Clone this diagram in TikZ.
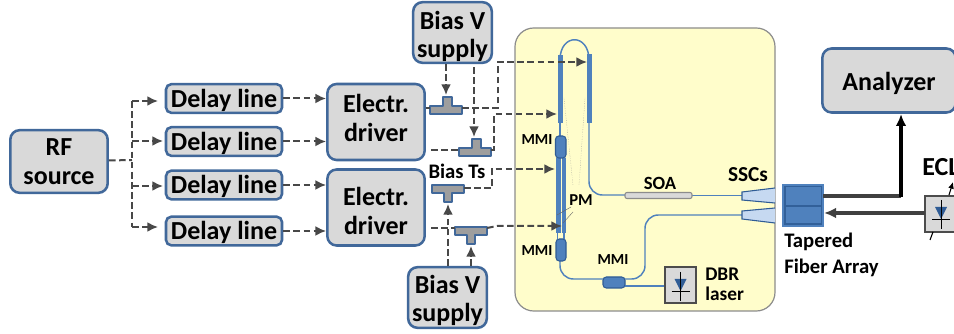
\documentclass[tikz,border=0pt]{standalone}
\usepackage{fontspec}
\setmainfont{Carlito}
\usetikzlibrary{calc}
\usetikzlibrary{arrows.meta}
\definecolor{boxfill}{HTML}{D9D9D9}
\definecolor{boxedge}{HTML}{41689A}
\definecolor{sigline}{HTML}{484848}
\definecolor{chipfill}{HTML}{FFFDCB}
\definecolor{guide}{HTML}{4F81BD}
\definecolor{deepblue}{HTML}{2F5C95}
\definecolor{taperfill}{HTML}{C6D9F1}
\tikzset{
  block/.style={draw=boxedge,fill=boxfill,line width=1.9pt,rounded corners=7pt,inner sep=0pt,align=center,font=\bfseries\fontsize{19.5}{22}\selectfont},
  delaybox/.style={block,rounded corners=4pt,minimum width=87pt,minimum height=21.5pt,text height=16.5pt,text depth=3.6pt},
  bigbox/.style={block,minimum width=73pt,minimum height=57pt},
  sig/.style={draw=sigline,line width=1.5pt,dash pattern=on 5pt off 2.6pt,-{Latex[length=8pt,width=7.5pt]}},
  signoarrow/.style={draw=sigline,line width=1.5pt,dash pattern=on 5pt off 2.6pt},
  tee/.style={draw=boxedge,fill=black!38,line width=1.6pt,line join=round},
  wg/.style={draw=guide,line width=1.1pt},
  mmi/.style={draw=deepblue,fill=guide,line width=0.8pt,rounded corners=2.5pt},
  lbl/.style={font=\bfseries\fontsize{11.5}{14}\selectfont,inner sep=0pt},
  lblbig/.style={font=\bfseries\fontsize{15.5}{19}\selectfont,inner sep=0pt,align=left},
  hint/.style={draw=black!45,line width=0.3pt,densely dotted},
}
\begin{document}
\begin{tikzpicture}[x=0.75pt,y=-0.75pt]
\useasboundingbox (0,0) rectangle (954,334);
% chip
\draw [fill=chipfill,draw=black!45,line width=0.9pt,rounded corners=14pt] (515,28) rectangle (775,311);
% boxes on the left
\node [block,minimum width=73pt,minimum height=47pt] (rf) at (59,161.5) {RF\\source};
\node [delaybox] (dl1) at (224,98.5) {Delay line};
\node [delaybox] (dl2) at (224,141.5) {Delay line};
\node [delaybox] (dl3) at (224,185) {Delay line};
\node [delaybox] (dl4) at (224,231) {Delay line};
\node [bigbox] (drv1) at (376,122) {Electr.\\driver\rule[-6pt]{0pt}{6pt}};
\node [bigbox] (drv2) at (376,207.5) {\rule{0pt}{19pt}Electr.\\driver};
\node [block,minimum width=59pt,minimum height=45.5pt] (bias1) at (452.5,32.5) {\rule{0pt}{20pt}Bias V\\[-1pt]supply};
\node [block,minimum width=59pt,minimum height=45.5pt] (bias2) at (447.5,297.5) {\rule{0pt}{18pt}Bias V\\[-1pt]supply};
\node [block,minimum width=100pt,minimum height=48pt,text height=18.5pt,text depth=3.6pt] (ana) at (889,80.5) {Analyzer};
% bias tees
\draw [tee] (430,114) -- (430,106) -- (443,106) -- (443,97) -- (452,97) -- (452,106) -- (462,106) -- (462,114) -- cycle;
\draw [tee] (459,156) -- (459,148) -- (472,148) -- (472,139) -- (481,139) -- (481,148) -- (491,148) -- (491,156) -- cycle;
\draw [tee] (432,185) -- (464,185) -- (464,193) -- (452,193) -- (452,202) -- (444,202) -- (444,193) -- (432,193) -- cycle;
\draw [tee] (455,227) -- (487,227) -- (487,235) -- (475,235) -- (475,244) -- (467,244) -- (467,235) -- (455,235) -- cycle;
\coordinate (t1l) at (430,108);
\coordinate (t1r) at (462,108);
\coordinate (t1n) at (446,95);
\coordinate (t2l) at (459,150);
\coordinate (t2r) at (491,150);
\coordinate (t2n) at (474,137);
\coordinate (t3r) at (464,188);
\coordinate (t3s) at (448,204);
\coordinate (t4l) at (455,228);
\coordinate (t4r) at (487,228);
\coordinate (t4s) at (471,246);
\coordinate (bus) at (132,160);
% waveguides
\draw [wg] (560,60) .. controls (560,33) and (589,33) .. (589,60);
\draw [wg] (560,120) -- (560,138);
\draw [wg,rounded corners=10pt] (589,120) -- (589,195) -- (625,195);
\draw [wg] (692,195.5) -- (742,195.5);
\draw [wg,rounded corners=10pt] (560,259) -- (560,279) -- (603,279);
\draw [wg,rounded corners=10pt] (625,279) -- (645,279) -- (645,215) -- (742,215);
\draw [wg] (625,286) -- (665,286);
\fill [guide] (557.5,55) rectangle (562.5,123);
\fill [guide] (586.5,54) rectangle (591.5,123);
\fill [guide] (556,158) rectangle (560.5,233);
\fill [guide] (562,158) rectangle (566,233);
\draw [wg] (557.5,233) -- (557.5,239);
\draw [wg] (564,233) -- (564,239);
\draw [mmi] (555.5,136) rectangle (566,158);
\draw [mmi] (556,239) rectangle (566,261);
\draw [mmi] (603,277) rectangle (625,288);
\draw [draw=black!45,fill=boxfill,line width=0.8pt,rounded corners=1.5pt] (625,192.5) rectangle (692,198.5);
\draw [hint] (564,98) -- (573,185);
\draw [hint] (585,98) -- (579,185);
\draw [draw=black!60,line width=0.3pt] (557,215) -- (571,207);
\draw [draw=black!60,line width=0.3pt] (563,223) -- (573,212);
% tapers and fiber array
\draw [draw=deepblue,fill=taperfill,line width=0.8pt] (775,188) -- (742,192) -- (742,200) -- (775,203);
\draw [draw=deepblue,fill=taperfill,line width=0.8pt] (775,208) -- (742,211) -- (742,219) -- (775,223);
\draw [draw=guide,fill=deepblue!90!guide,line width=0.8pt] (783,185) rectangle (823,226);
\fill [guide] (785.5,187.5) rectangle (820.5,205);
\fill [guide] (785.5,207) rectangle (820.5,223.5);
% dbr laser
\draw [fill=boxfill,draw=black!70,line width=0.8pt] (665,267) rectangle (696,303);
\coordinate (dbr) at (680.5,285);
\fill [deepblue] ($(dbr)+(-6,-6)$) -- ($(dbr)+(6,-6)$) -- ($(dbr)+(0,6)$) -- cycle;
\draw [line width=0.5pt] ($(dbr)+(0,-13)$) -- ($(dbr)+(0,16)$);
\draw [line width=0.5pt] ($(dbr)+(-9,6)$) -- ($(dbr)+(9,6)$);
% ecl
\draw [fill=boxfill,draw=black!70,line width=0.8pt] (925,196) rectangle (960,232);
\coordinate (ecl) at (941,213);
\fill [deepblue] ($(ecl)+(-6,-6)$) -- ($(ecl)+(6,-6)$) -- ($(ecl)+(0,6)$) -- cycle;
\draw [line width=0.5pt] ($(ecl)+(0,-13)$) -- ($(ecl)+(0,16)$);
\draw [line width=0.5pt] ($(ecl)+(-9,6)$) -- ($(ecl)+(9,6)$);
\coordinate (eclin) at (925,213);
\coordinate (eclout) at (824,213);
\draw [-{Latex[length=5pt,width=4.5pt]},line width=0.8pt] (949,195) -- (953,182);
\draw [line width=0.8pt] (933,232) -- (930,240);
% dashed signals
\draw [signoarrow] (rf.east) ++(0,-1) -- (bus);
\draw [signoarrow] (132,101) -- (132,227);
\draw [sig] (132,101) -- (158,101);
\draw [sig] (132,141) -- (163,141);
\draw [sig] (132,186) -- (163,186);
\draw [sig] (132,227) -- (158,227);
\draw [sig] (dl1.east) -- (dl1 -| drv1.west);
\draw [sig] (dl2.east) -- (dl2 -| drv1.west);
\draw [sig] (dl3.east) -- (dl3 -| drv2.west);
\draw [sig] (dl4.east) -- (dl4 -| drv2.west);
\draw [signoarrow] (drv1.east |- t1l) -- (t1l);
\draw [signoarrow] (431,150) -- (t2l);
\draw [signoarrow] (431,228) -- (t4l);
\draw [sig] (t1r) -- (498,108) -- (498,62) -- (587,62);
\draw [sig] (t2r) -- (494,150) -- (494,114) -- (557,114);
\draw [sig] (t3r) -- (492,188) -- (492,169) -- (555,169);
\draw [sig] (t4r) -- (497,226) -- (562,226);
\draw [sig] (bias1.south -| t1n) -- (t1n);
\draw [sig] (bias1.south -| t2n) ++(0,3) -- (t2n);
\draw [sig] (bias2.north -| t3s) -- (t3s);
\draw [sig] (bias2.north -| t4s) -- (t4s);
% thick fiber lines
\draw [draw=black!75,line width=2.6pt] (823,196) -- (901,196);
\draw [-{Latex[length=9pt,width=8pt]},line width=2.6pt] (901,197) -- (901,114);
\draw [draw=black!75,line width=2.6pt,-{Latex[length=9pt,width=8pt]}] (eclin) -- (eclout);
% labels
\node [lbl] (lmmi1) at (537,140) {MMI};
\node [lbl] (lmmi2) at (537,251) {MMI};
\node [lbl] (lmmi3) at (613,260) {MMI};
\node [lbl,font=\bfseries\fontsize{12.5}{14}\selectfont] (lpm) at (581,200) {PM};
\node [lbl,font=\bfseries\fontsize{14}{16}\selectfont] (lsoa) at (660,183) {SOA};
\node [lbl,font=\bfseries\fontsize{16}{16}\selectfont] (lssc) at (748,175) {SSCs};
\node [lbl,font=\bfseries\fontsize{14.5}{15}\selectfont,align=left,anchor=north west] (ldbr) at (705,268) {DBR\\laser};
\node [lblbig,anchor=north west] (lfiber) at (784,233) {Tapered\\Fiber Array};
\node [lblbig] (lts) at (457,171) {Bias Ts};
\node [lblbig,font=\bfseries\fontsize{19.5}{20}\selectfont,anchor=west] (lecl) at (922,167) {ECL};
\end{tikzpicture}
\end{document}
